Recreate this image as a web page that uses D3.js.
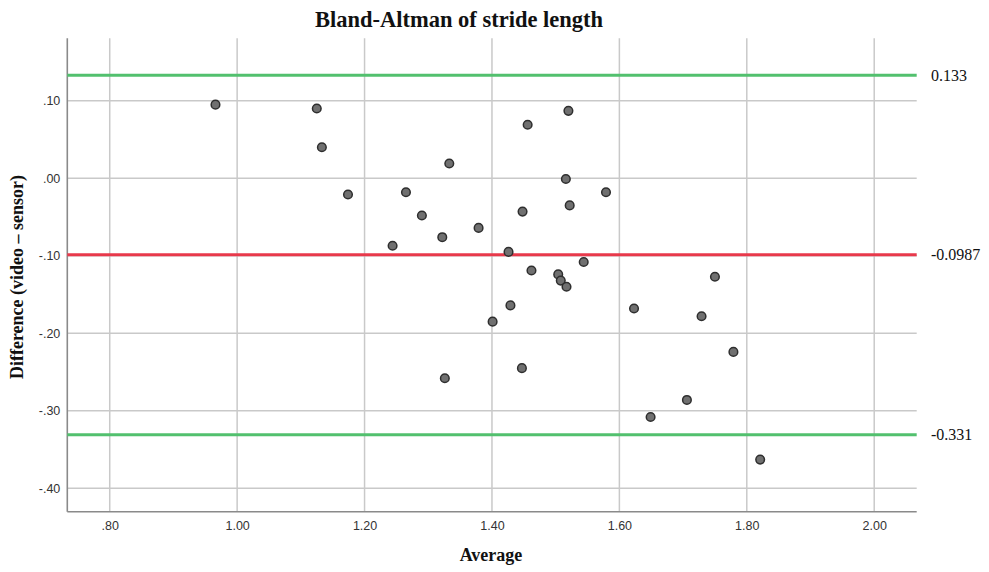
<!DOCTYPE html>
<html>
<head>
<meta charset="utf-8">
<script src="https://cdn.jsdelivr.net/npm/d3@7"></script>
<style>
  html, body { margin: 0; padding: 0; background: #fff; }
  svg { display: block; }
</style>
</head>
<body>
<svg id="chart" width="989" height="572"></svg>
<script>
// ---- Data ----
const averages = [0.966, 1.125, 1.133, 1.174, 1.244, 1.265, 1.290, 1.322, 1.326, 1.333,
                  1.379, 1.401, 1.426, 1.429, 1.447, 1.448, 1.456, 1.462, 1.504, 1.508,
                  1.517, 1.516, 1.520, 1.522, 1.544, 1.579, 1.623, 1.649, 1.706, 1.729,
                  1.750, 1.779, 1.821];
const differences = [0.095, 0.090, 0.040, -0.021, -0.087, -0.018, -0.048, -0.076, -0.258, 0.019,
                     -0.064, -0.185, -0.095, -0.164, -0.245, -0.043, 0.069, -0.119, -0.124, -0.132,
                     -0.140, -0.001, 0.087, -0.035, -0.108, -0.018, -0.168, -0.308, -0.286, -0.178,
                     -0.127, -0.224, -0.363];
const xTicks = [0.8, 1.0, 1.2, 1.4, 1.6, 1.8, 2.0];
const yTicks = [0.1, 0.0, -0.1, -0.2, -0.3, -0.4];
const refLines = [
  { value: 0.133, label: "0.133", kind: "limit" },
  { value: -0.0987, label: "-0.0987", kind: "mean" },
  { value: -0.331, label: "-0.331", kind: "limit" }
];
const titleText = "Bland-Altman of stride length";
const xLabel = "Average";
const yLabel = "Difference (video \u2013 sensor)";

// ---- Layout ----
const svg = d3.select("#chart");
const plotLeft = 67.3, plotRight = 916.7, plotTop = 38.3, plotBottom = 511.7;

const x = d3.scaleLinear().domain([0.7334, 2.0667]).range([plotLeft, plotRight]);
const y = d3.scaleLinear().domain([-0.4302, 0.1806]).range([plotBottom, plotTop]);

const fmt = v => {
  const s = Math.abs(v).toFixed(2);
  const t = Math.abs(v) < 1 ? s.replace(/^0/, "") : s;
  return (v < -1e-9 ? "-" : "") + t;
};

// Grid lines
const grid = svg.append("g");
grid.selectAll("line.vg").data(xTicks).enter().append("line")
  .attr("x1", d => x(d)).attr("x2", d => x(d))
  .attr("y1", plotTop).attr("y2", plotBottom)
  .attr("stroke", "#c9c9c9").attr("stroke-width", 1.5);
grid.selectAll("line.hg").data(yTicks).enter().append("line")
  .attr("x1", plotLeft).attr("x2", plotRight)
  .attr("y1", d => y(d)).attr("y2", d => y(d))
  .attr("stroke", "#c9c9c9").attr("stroke-width", 1.5);

// Axes
const xAxis = d3.axisBottom(x).tickValues(xTicks).tickFormat(fmt).tickSize(0).tickPadding(9);
const yAxis = d3.axisLeft(y).tickValues(yTicks).tickFormat(fmt).tickSize(0).tickPadding(7);

const gx = svg.append("g").attr("transform", `translate(0,${plotBottom})`).call(xAxis);
const gy = svg.append("g").attr("transform", `translate(${plotLeft},0)`).call(yAxis);
[gx, gy].forEach(g => {
  g.select(".domain").attr("stroke", "#8a8a8a").attr("stroke-width", 1.6);
  g.selectAll("text").attr("font-family", "'Liberation Sans', Arial, sans-serif")
    .attr("font-size", 12.5).attr("fill", "#333");
});
gx.select(".domain").attr("d", `M${plotLeft},0H${plotRight}`);
gy.select(".domain").attr("d", `M0,${plotTop}V${plotBottom}`);

// Reference lines
const refG = svg.append("g");
refG.selectAll("line").data(refLines).enter().append("line")
  .attr("x1", plotLeft).attr("x2", plotRight)
  .attr("y1", d => y(d.value)).attr("y2", d => y(d.value))
  .attr("stroke", d => d.kind === "mean" ? "#e8394b" : "#52c06e")
  .attr("stroke-width", 3);
refG.selectAll("text").data(refLines).enter().append("text")
  .attr("x", 931)
  .attr("y", d => y(d.value))
  .attr("dy", "0.35em")
  .attr("font-family", "'Liberation Serif', 'Times New Roman', serif")
  .attr("font-size", 16)
  .attr("fill", "#111")
  .text(d => d.label);

// Points
const pts = averages.map((a, i) => ({ a, d: differences[i] }));
svg.append("g").selectAll("circle").data(pts).enter().append("circle")
  .attr("cx", d => x(d.a)).attr("cy", d => y(d.d))
  .attr("r", 4.3)
  .attr("fill", "#707070")
  .attr("stroke", "#2e2e2e")
  .attr("stroke-width", 1.5);

// Title and labels
svg.append("text")
  .attr("x", 459).attr("y", 27)
  .attr("text-anchor", "middle")
  .attr("font-family", "'Liberation Serif', 'Times New Roman', serif")
  .attr("font-weight", "bold").attr("font-size", 22.5)
  .attr("fill", "#111")
  .text(titleText);

svg.append("text")
  .attr("x", 491).attr("y", 561)
  .attr("text-anchor", "middle")
  .attr("font-family", "'Liberation Serif', 'Times New Roman', serif")
  .attr("font-weight", "bold").attr("font-size", 18)
  .attr("fill", "#111")
  .text(xLabel);

svg.append("text")
  .attr("transform", `translate(23,277) rotate(-90)`)
  .attr("text-anchor", "middle")
  .attr("font-family", "'Liberation Serif', 'Times New Roman', serif")
  .attr("font-weight", "bold").attr("font-size", 18)
  .attr("fill", "#111")
  .text(yLabel);
</script>
</body>
</html>
